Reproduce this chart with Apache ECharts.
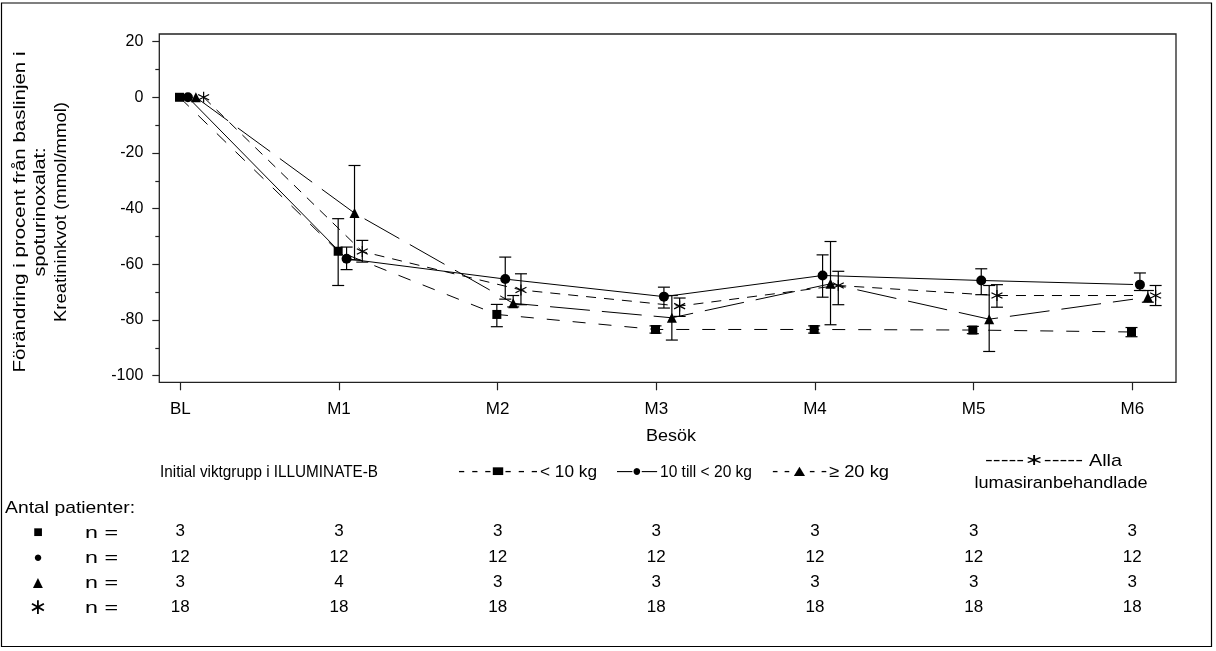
<!DOCTYPE html>
<html><head><meta charset="utf-8">
<script src="https://cdn.jsdelivr.net/npm/echarts@6/dist/echarts.min.js"></script>
<style>html,body{margin:0;padding:0;background:#fff}#c{width:1216px;height:651px}</style>
</head><body><div id="c"></div><script>
// ---- data ----
const visits = ['BL','M1','M2','M3','M4','M5','M6'];
const yTickLabels = [-100,-80,-60,-40,-20,0,20];

const lt10Mean = [0, -55.3, -78.0, -83.4, -83.4, -83.6, -84.3];
const lt10Low  = [null, -67.6, -82.4, -84.7, -84.7, -84.9, -86.0];
const lt10High = [null, -43.6, -74.4, -82.1, -82.1, -82.3, -82.7];

const midMean = [0, -58.0, -65.3, -71.6, -64.0, -65.8, -67.3];
const midLow  = [null, -61.9, -72.5, -75.7, -71.8, -70.9, -69.4];
const midHigh = [null, -53.8, -57.4, -68.2, -56.6, -61.6, -63.1];

const ge20Mean = [0, -41.6, -74.0, -79.2, -67.0, -79.7, -71.8];
const ge20Low  = [null, -58.4, -75.3, -87.2, -81.7, -91.3, -73.6];
const ge20High = [null, -24.5, -71.2, -71.2, -51.8, -67.6, -69.4];

const allMean = [0, -55.4, -69.2, -75.0, -67.6, -71.2, -71.2];
const allLow  = [null, -59.2, -74.5, -78.7, -74.5, -75.4, -74.8];
const allHigh = [null, -51.4, -63.4, -72.1, -62.5, -67.3, -67.6];

const lt10N = [3,3,3,3,3,3,3];
const midN  = [12,12,12,12,12,12,12];
const ge20N = [3,4,3,3,3,3,3];
const allN  = [18,18,18,18,18,18,18];

const groupLabels = ['< 10 kg', '10 till < 20 kg', '≥ 20 kg', 'Alla lumasiranbehandlade'];

// ---- styling / layout ----
const FONT = '"Liberation Sans", Arial, "DejaVu Sans", sans-serif';
const offsets = [-0.005, 0.048, 0.098, 0.147];
const starPath = 'path://M0,-10L0,10M-8.66,-5L8.66,5M-8.66,5L8.66,-5';

const mctx = document.createElement('canvas').getContext('2d');
function fit(str, size, target) {
  mctx.font = size + 'px ' + FONT;
  return target / mctx.measureText(str).width;
}
function txt(str, x, y, size, target, align, extra) {
  const o = {
    type: 'text', x: x, y: y, silent: true,
    scaleX: target ? fit(str, size, target) : 1,
    style: { text: str, fontSize: size, fontFamily: FONT, fill: '#000',
             textAlign: align || 'left', textVerticalAlign: 'middle' }
  };
  return Object.assign(o, extra || {});
}

function lineSeries(name, mean, off, symbol, size, dash, itemStyle) {
  return {
    type: 'line', name: name, xAxisIndex: 0, yAxisIndex: 0,
    data: mean.map((v, i) => [i + off, v]),
    symbol: symbol, symbolSize: size, showSymbol: true, clip: false,
    lineStyle: { color: '#000', width: 1, type: dash },
    itemStyle: itemStyle || { color: '#000' },
    z: 4, silent: true, animation: false
  };
}
function errSeries(low, high, off) {
  const data = [];
  low.forEach((l, i) => { if (l !== null) data.push([i + off, l, high[i]]); });
  return {
    type: 'custom', xAxisIndex: 0, yAxisIndex: 0, data: data, silent: true, z: 3,
    animation: false,
    renderItem: function (params, api) {
      const x = api.value(0);
      const p1 = api.coord([x, api.value(1)]);
      const p2 = api.coord([x, api.value(2)]);
      const w = 6;
      const st = { stroke: '#000', lineWidth: 1.2 };
      return { type: 'group', children: [
        { type: 'line', shape: { x1: p1[0], y1: p1[1], x2: p2[0], y2: p2[1] }, style: st },
        { type: 'line', shape: { x1: p1[0] - w, y1: p1[1], x2: p1[0] + w, y2: p1[1] }, style: st },
        { type: 'line', shape: { x1: p2[0] - w, y1: p2[1], x2: p2[0] + w, y2: p2[1] }, style: st }
      ]};
    }
  };
}

const chart = echarts.init(document.getElementById('c'), null, { renderer: 'canvas' });

const graphics = [
  { type: 'rect', shape: { x: 1.5, y: 3, width: 1210, height: 643.5 }, silent: true,
    style: { fill: 'none', stroke: '#000', lineWidth: 1.2 } },
  { type: 'rect', shape: { x: 159.3, y: 34, width: 1016.7, height: 348.3 }, silent: true,
    style: { fill: 'none', stroke: '#222', lineWidth: 1.3 } },
  // y-axis title
  txt('Förändring i procent från baslinjen i', 20, 212, 17, 321, 'center', { rotation: Math.PI / 2 }),
  txt('spoturinoxalat:', 40.5, 212, 17, 129, 'center', { rotation: Math.PI / 2 }),
  txt('Kreatininkvot (mmol/mmol)', 61, 212, 17, 220, 'center', { rotation: Math.PI / 2 }),
  // x-axis title
  txt('Besök', 671, 436, 17, 50, 'center'),
  // legend
  txt('Initial viktgrupp i ILLUMINATE-B', 160, 472, 17, 218, 'left'),
  txt('- - -■- - -', 458, 472, 16, 80, 'left'),
  txt(groupLabels[0], 540, 472, 17, 57, 'left'),
  txt('—●—', 617, 472, 16, 40, 'left'),
  txt(groupLabels[1], 660, 472, 17, 92, 'left'),
  txt('- -▲- -', 772, 472, 16, 55, 'left'),
  txt(groupLabels[2], 829, 472, 17, 60, 'left'),
  txt('-----∗-----', 985, 461, 16, 98, 'left'),
  txt('Alla', 1089, 461, 17, 33, 'left'),
  txt('lumasiranbehandlade', 1061, 483, 17, 173, 'center'),
  // table
  txt('Antal patienter:', 5, 508, 17, 130, 'left'),
  txt('■', 38, 533, 16, 0, 'center'),
  txt('●', 38, 558, 15, 0, 'center'),
  txt('▲', 38, 583, 17, 0, 'center'),
  txt('∗', 38, 608, 22, 0, 'center'),
  txt('n =', 85, 533, 17, 33, 'left'),
  txt('n =', 85, 558, 17, 33, 'left'),
  txt('n =', 85, 583, 17, 33, 'left'),
  txt('n =', 85, 608, 17, 33, 'left')
];

const option = {
  animation: false,
  backgroundColor: '#fff',
  textStyle: { fontFamily: FONT },
  grid: [{ left: 180.3, top: 41.6, width: 952, height: 334.1, containLabel: false, outerBoundsMode: 'none' }],
  xAxis: [
    { type: 'value', gridIndex: 0, position: 'bottom', min: 0, max: 6, interval: 1, offset: 6.6,
      axisLine: { show: false, onZero: false },
      axisTick: { show: true, length: 8, inside: false, lineStyle: { color: '#222', width: 1.2 } },
      splitLine: { show: false },
      axisLabel: { formatter: v => visits[v], fontSize: 17, color: '#000', margin: 19, fontFamily: FONT } },
    { type: 'value', gridIndex: 0, position: 'bottom', min: 0, max: 6, interval: 1, offset: 0,
      axisLine: { show: false, onZero: false }, axisTick: { show: false }, splitLine: { show: false },
      axisLabel: { formatter: v => [lt10N[v], midN[v], ge20N[v], allN[v]].join('\n'),
                   fontSize: 17, lineHeight: 25.2, color: '#000', margin: 143.5, fontFamily: FONT } }
  ],
  yAxis: [
    { type: 'value', gridIndex: 0, position: 'left', min: yTickLabels[0], max: yTickLabels[yTickLabels.length - 1], interval: 20, offset: 21,
      axisLine: { show: false, onZero: false },
      axisTick: { show: true, length: 7, lineStyle: { color: '#222', width: 1.2 } },
      minorTick: { show: true, splitNumber: 2, length: 4, lineStyle: { color: '#222', width: 1.2 } },
      splitLine: { show: false }, minorSplitLine: { show: false },
      axisLabel: { fontSize: 16, color: '#000', margin: 16, fontFamily: FONT } }
  ],
  graphic: graphics,
  series: [
    errSeries(lt10Low, lt10High, offsets[0]),
    errSeries(midLow, midHigh, offsets[1]),
    errSeries(ge20Low, ge20High, offsets[2]),
    errSeries(allLow, allHigh, offsets[3]),
    lineSeries(groupLabels[0], lt10Mean, offsets[0], 'rect', 9, [13, 13]),
    lineSeries(groupLabels[1], midMean, offsets[1], 'circle', 10, 'solid'),
    lineSeries(groupLabels[2], ge20Mean, offsets[2], 'triangle', 10, [40, 12]),
    lineSeries(groupLabels[3], allMean, offsets[3], starPath, 11, [10, 8],
               { color: 'none', borderColor: '#000', borderWidth: 1.2 })
  ]
};
chart.setOption(option);
</script></body></html>
